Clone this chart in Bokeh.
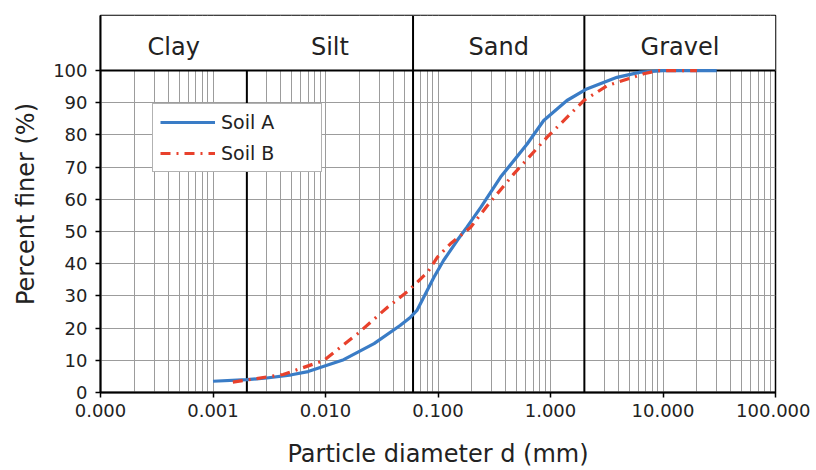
from bokeh.plotting import figure
from bokeh.models import Range1d, FixedTicker, PrintfTickFormatter, Legend, LegendItem
from bokeh.core.properties import value
from bokeh.embed import file_html
from bokeh.resources import INLINE

# ---- data ----
soil_a_d = [0.001, 0.002, 0.003, 0.005, 0.007, 0.0145, 0.027, 0.046, 0.057, 0.065,
            0.092, 0.112, 0.148, 0.18, 0.24, 0.36, 0.62, 0.87, 1.4, 2.1, 3.9, 6.3, 10, 30]
soil_a_p = [3.5, 4.0, 4.5, 5.5, 6.5, 10.2, 15.2, 20.8, 23.4, 25.5,
            35.8, 41.0, 47.2, 51.3, 57.5, 66.9, 77.2, 84.5, 90.7, 94.3, 97.9, 99.5, 100, 100]

soil_b_d = [0.0015, 0.0042, 0.0096, 0.0192, 0.0356, 0.055, 0.081, 0.0985, 0.129,
            0.195, 0.274, 0.472, 0.933, 1.98, 3.19, 6.75, 9, 20]
soil_b_p = [3.2, 5.6, 9.9, 18.2, 26.5, 31.7, 37.4, 42.0, 46.2,
            51.3, 58.0, 67.9, 79.3, 90.7, 95.3, 99.0, 100, 100]

zone_names = ["Clay", "Silt", "Sand", "Gravel"]
zone_bounds = [0.0001, 0.002, 0.06, 2.0, 100.0]

x_ticks = [0.0001, 0.001, 0.01, 0.1, 1, 10, 100]
y_ticks = [0, 10, 20, 30, 40, 50, 60, 70, 80, 90, 100]

# ---- layout constants ----
X0, X1 = 1e-4, 100.0
Y_TOP = 117.1
FONT = "DejaVu Sans"
BLUE = "#3a7cc6"
RED = "#e8412c"
GRID = "#9c9c9c"

minor = [k * 10.0 ** n for n in range(-4, 2) for k in range(2, 10)]

p = figure(width=810, height=470, x_axis_type="log",
           x_range=Range1d(X0, X1), y_range=Range1d(0, Y_TOP),
           output_backend="svg", toolbar_location=None,
           min_border_left=100, min_border_right=35,
           min_border_top=15, min_border_bottom=78)

p.xaxis.ticker = FixedTicker(ticks=x_ticks, minor_ticks=minor)
p.xaxis.formatter = PrintfTickFormatter(format="%.3f")
p.yaxis.ticker = FixedTicker(ticks=y_ticks)
p.ygrid.ticker = FixedTicker(ticks=y_ticks)

p.xgrid.grid_line_color = GRID
p.xgrid.minor_grid_line_color = GRID
p.xgrid.grid_line_width = 1
p.xgrid.minor_grid_line_width = 1
p.ygrid.grid_line_color = GRID
p.ygrid.grid_line_width = 1

for ax in (p.xaxis, p.yaxis):
    ax.axis_line_color = "black"
    ax.axis_line_width = 2
    ax.major_tick_line_color = "black"
    ax.major_tick_line_width = 1.5
    ax.major_tick_out = 5
    ax.major_tick_in = 0
    ax.minor_tick_out = 0
    ax.minor_tick_in = 0
    ax.major_label_text_font = FONT
    ax.major_label_text_font_size = "18px"
    ax.major_label_text_color = "#222222"
    ax.axis_label_text_font = FONT
    ax.axis_label_text_font_size = "24px"
    ax.axis_label_text_font_style = "normal"
    ax.axis_label_text_color = "#222222"

p.xaxis.axis_label = "Particle diameter d (mm)"
p.yaxis.axis_label = "Percent finer (%)"
p.xaxis.major_label_standoff = 6
p.yaxis.major_label_standoff = 8
p.xaxis.axis_label_standoff = 20
p.yaxis.axis_label_standoff = 10

p.outline_line_color = "black"
p.outline_line_width = 1.5
p.background_fill_color = "white"
p.border_fill_color = "white"

# header band (covers grid above 100 %)
p.quad(left=[X0], right=[X1], bottom=[100], top=[Y_TOP],
       fill_color="white", line_color=None)

# boundary lines
p.segment(x0=zone_bounds[2:4], x1=zone_bounds[2:4], y0=[0, 0], y1=[Y_TOP, Y_TOP],
          line_color="black", line_width=2)
p.segment(x0=[zone_bounds[1]], x1=[zone_bounds[1]], y0=[0], y1=[100],
          line_color="black", line_width=2)
p.segment(x0=[X0], x1=[X1], y0=[100], y1=[100], line_color="black", line_width=2)

# zone labels
centers = [(zone_bounds[i] * zone_bounds[i + 1]) ** 0.5 for i in range(4)]
p.text(x=centers, y=[107.2] * 4, text=zone_names,
       text_font=value(FONT), text_font_size="24px", text_color="#222222",
       text_align="center", text_baseline="middle")

la = p.line(soil_a_d, soil_a_p, line_color=BLUE, line_width=3.2)
lb = p.line(soil_b_d, soil_b_p, line_color=RED, line_width=3.2, line_dash="10 6 2 6")

legend = Legend(items=[LegendItem(label="Soil A", renderers=[la]),
                       LegendItem(label="Soil B", renderers=[lb])],
                location=(52, 220), padding=7, spacing=9,
                glyph_width=55, glyph_height=22, label_height=22,
                label_standoff=6, label_width=93,
                label_text_font=FONT, label_text_font_size="19px",
                label_text_color="#222222",
                border_line_color="#666666", border_line_width=1.5,
                background_fill_color="white", background_fill_alpha=1)
p.add_layout(legend)

open("out.html", "w").write(file_html(p, INLINE))
